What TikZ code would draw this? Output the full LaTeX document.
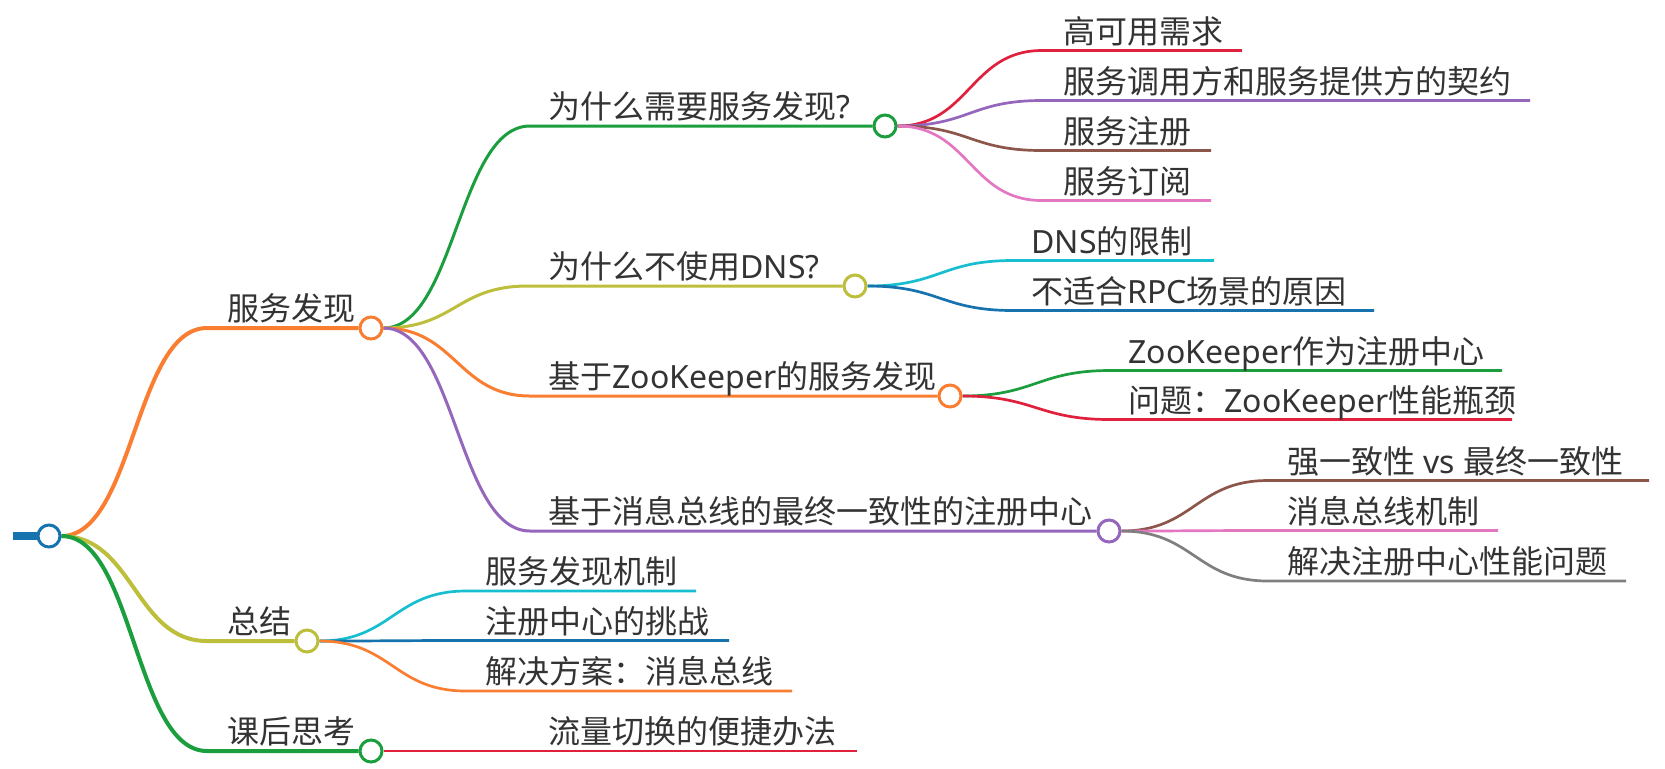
\documentclass[tikz,border=0pt]{standalone}
\usepackage{fontspec}
\setmainfont{Noto Sans CJK SC}
\newfontfamily\latfont{Noto Sans}
\newcommand\Lx[1]{{\latfont #1}}
\definecolor{cblue}{HTML}{1673AE}
\definecolor{corange}{HTML}{FA7E32}
\definecolor{cgreen}{HTML}{1B9E3E}
\definecolor{colive}{HTML}{BDBE3B}
\definecolor{cpurple}{HTML}{9467BD}
\definecolor{cred}{HTML}{E0213D}
\definecolor{cbrown}{HTML}{8C564B}
\definecolor{cpink}{HTML}{E377C2}
\definecolor{ccyan}{HTML}{17BECF}
\definecolor{cdblue}{HTML}{1673AE}
\definecolor{cgray}{HTML}{7F7F7F}
\definecolor{tgray}{HTML}{333333}
\pgfdeclarelayer{bg}
\pgfsetlayers{bg,main}
\begin{document}
\begin{tikzpicture}[x=0.5pt,y=-0.5pt,
  lone/.style={line width=2pt},
  ltwo/.style={line width=1.5pt},
  lthree/.style={line width=1.35pt},
  dot/.style={circle,draw,fill=white,line width=1.5pt,minimum size=11pt,inner sep=0pt},
  lbl/.style={anchor=base west,inner sep=0pt,text=tgray,font=\fontsize{16pt}{19pt}\selectfont}]
\useasboundingbox (0,0) rectangle (1665,768);

% circles
\node[dot,draw=cblue] (R) at (49,536) {};
\coordinate (Rs) at (13,536);
\node[dot,draw=corange] (N1) at (371,328) {};
\node[dot,draw=colive] (N2) at (307,641) {};
\node[dot,draw=cgreen] (N3) at (371,751) {};
\node[dot,draw=cgreen] (A) at (885,126) {};
\node[dot,draw=colive] (B) at (855,286) {};
\node[dot,draw=corange] (Cc) at (950,396) {};
\node[dot,draw=cpurple] (D) at (1109,531) {};

% level 1 texts and line points
\coordinate (e1) at (207,328);
\coordinate (e2) at (207,641);
\coordinate (e3) at (207,751);
\node[lbl] (t1) at (227,320.5) {服务发现};
\node[lbl] (t2) at (227,633.5) {总结};
\node[lbl] (t3) at (227,743.5) {课后思考};

% level 2
\coordinate (ea) at (530,126);
\coordinate (eb) at (528,286);
\coordinate (ec) at (530,396);
\coordinate (ed) at (530,531);
\node[lbl] (ta) at (548,118.5) {为什么需要服务发现\Lx{?}};
\node[lbl] (tb) at (548,278.5) {为什么不使用\Lx{DNS?}};
\node[lbl] (tc) at (548,388.5) {基于\Lx{ZooKeeper}的服务发现};
\node[lbl] (td) at (548,523.5) {基于消息总线的最终一致性的注册中心};

% level 3 under A
\coordinate (a1) at (1042,50.5);  \coordinate (a1z) at (1242,50.5);
\coordinate (a2) at (1042,100.5); \coordinate (a2z) at (1530,100.5);
\coordinate (a3) at (1042,150.5); \coordinate (a3z) at (1211,150.5);
\coordinate (a4) at (1042,200.5); \coordinate (a4z) at (1211,200.5);
\node[lbl] (ta1) at (1063,43) {高可用需求};
\node[lbl] (ta2) at (1063,93) {服务调用方和服务提供方的契约};
\node[lbl] (ta3) at (1063,143) {服务注册};
\node[lbl] (ta4) at (1063,193) {服务订阅};

% under B
\coordinate (b1) at (1013,260.5); \coordinate (b1z) at (1214,260.5);
\coordinate (b2) at (1013,310.5); \coordinate (b2z) at (1374,310.5);
\node[lbl] (tb1) at (1031,253) {\Lx{DNS}的限制};
\node[lbl] (tb2) at (1031,303) {不适合\Lx{RPC}场景的原因};

% under Cc
\coordinate (c1) at (1110,370.5); \coordinate (c1z) at (1502,370.5);
\coordinate (c2) at (1110,419.5); \coordinate (c2z) at (1512,419.5);
\node[lbl] (tc1) at (1128,363) {\Lx{ZooKeeper}作为注册中心};
\node[lbl] (tc2) at (1128,412) {问题：\Lx{ZooKeeper}性能瓶颈};

% under D
\coordinate (d1) at (1268,480.5); \coordinate (d1z) at (1649,480.5);
\coordinate (d2) at (1268,530.5); \coordinate (d2z) at (1498,530.5);
\coordinate (d3) at (1268,581);   \coordinate (d3z) at (1626,581);
\node[lbl] (td1) at (1287,473) {强一致性\Lx{ vs }最终一致性};
\node[lbl] (td2) at (1287,523) {消息总线机制};
\node[lbl] (td3) at (1287,573.5) {解决注册中心性能问题};

% under N2
\coordinate (s1) at (466,591);   \coordinate (s1z) at (696,591);
\coordinate (s2) at (466,640.5); \coordinate (s2z) at (729,640.5);
\coordinate (s3) at (466,691);   \coordinate (s3z) at (792,691);
\node[lbl] (ts1) at (485,583.5) {服务发现机制};
\node[lbl] (ts2) at (485,633) {注册中心的挑战};
\node[lbl] (ts3) at (485,683.5) {解决方案：消息总线};

% under N3
\coordinate (k1) at (530,751); \coordinate (k1z) at (857,751);
\node[lbl] (tk1) at (548,743.5) {流量切换的便捷办法};

\begin{pgfonlayer}{bg}
\draw[line width=3.8pt,cblue] (Rs) -- (R);
\draw[lone,corange] (R.east) .. controls +(72,0) and +(-72,0) .. (e1) -- (N1);
\draw[lone,colive] (R.east) .. controls +(72,0) and +(-72,0) .. (e2) -- (N2);
\draw[lone,cgreen] (R.east) .. controls +(72,0) and +(-72,0) .. (e3) -- (N3);

\draw[ltwo,cgreen] (N1.east) .. controls +(72,0) and +(-72,0) .. (ea) -- (A);
\draw[ltwo,colive] (N1.east) .. controls +(72,0) and +(-72,0) .. (eb) -- (B);
\draw[ltwo,corange] (N1.east) .. controls +(72,0) and +(-72,0) .. (ec) -- (Cc);
\draw[ltwo,cpurple] (N1.east) .. controls +(72,0) and +(-72,0) .. (ed) -- (D);

\draw[lthree,cred] (A.east) .. controls +(72,0) and +(-72,0) .. (a1) -- (a1z);
\draw[lthree,cpurple] (A.east) .. controls +(72,0) and +(-72,0) .. (a2) -- (a2z);
\draw[lthree,cbrown] (A.east) .. controls +(72,0) and +(-72,0) .. (a3) -- (a3z);
\draw[lthree,cpink] (A.east) .. controls +(72,0) and +(-72,0) .. (a4) -- (a4z);

\draw[lthree,ccyan] (B.east) .. controls +(72,0) and +(-72,0) .. (b1) -- (b1z);
\draw[lthree,cdblue] (B.east) .. controls +(72,0) and +(-72,0) .. (b2) -- (b2z);

\draw[lthree,cgreen] (Cc.east) .. controls +(72,0) and +(-72,0) .. (c1) -- (c1z);
\draw[lthree,cred] (Cc.east) .. controls +(72,0) and +(-72,0) .. (c2) -- (c2z);

\draw[lthree,cbrown] (D.east) .. controls +(72,0) and +(-72,0) .. (d1) -- (d1z);
\draw[lthree,cpink] (D.east) .. controls +(72,0) and +(-72,0) .. (d2) -- (d2z);
\draw[lthree,cgray] (D.east) .. controls +(72,0) and +(-72,0) .. (d3) -- (d3z);

\draw[lthree,ccyan] (N2.east) .. controls +(72,0) and +(-72,0) .. (s1) -- (s1z);
\draw[lthree,cdblue] (N2.east) .. controls +(72,0) and +(-72,0) .. (s2) -- (s2z);
\draw[lthree,corange] (N2.east) .. controls +(72,0) and +(-72,0) .. (s3) -- (s3z);

\draw[lthree,cred] (N3.east) -- (k1) -- (k1z);
\end{pgfonlayer}
\end{tikzpicture}
\end{document}
